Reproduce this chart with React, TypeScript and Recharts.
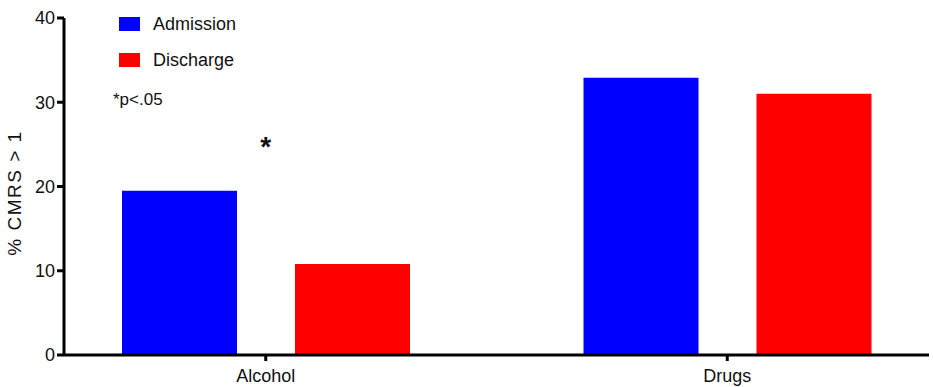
import { BarChart, Bar, XAxis, YAxis, ReferenceDot } from "recharts";

const categories = ["Alcohol", "Drugs"];
const admission = [19.5, 32.9];
const discharge = [10.8, 31.0];
const yTicks = [0, 10, 20, 30, 40];
const seriesNames = ["Admission", "Discharge"];
const seriesColors = ["#0000ff", "#ff0000"];

const data = categories.map((name, i) => ({
  name,
  Admission: admission[i],
  Discharge: discharge[i],
}));

const FONT = "'Liberation Sans', Arial, sans-serif";

export default function App() {
  return (
    <div style={{ position: "absolute", left: 0, top: 0, width: 933, height: 387, background: "#fff" }}>
      <BarChart
        width={933}
        height={387}
        data={data}
        margin={{ top: 18, right: 4, bottom: 0, left: 0 }}
        barGap={58}
        barSize={115}
      >
        <XAxis
          dataKey="name"
          padding={{ left: -29, right: -29 }}
          height={32}
          axisLine={{ stroke: "#000", strokeWidth: 3 }}
          tickLine={{ stroke: "#000", strokeWidth: 3 }}
          tickSize={6}
          tickMargin={8}
          tick={{ fill: "#111", fontSize: 18, fontFamily: FONT }}
        />
        <YAxis
          width={64}
          domain={[0, 40]}
          ticks={yTicks}
          axisLine={{ stroke: "#000", strokeWidth: 3 }}
          tickLine={{ stroke: "#000", strokeWidth: 3 }}
          tickSize={7}
          tickMargin={2}
          tick={{ fill: "#111", fontSize: 18, fontFamily: FONT }}
        />
        {seriesNames.map((key, i) => (
          <Bar key={key} dataKey={key} fill={seriesColors[i]} isAnimationActive={false} />
        ))}
        <ReferenceDot
          x="Alcohol"
          y={25}
          r={0}
          fill="none"
          stroke="none"
          label={{ value: "*", position: "center", fill: "#111", fontSize: 28, fontWeight: "bold", fontFamily: FONT, dy: 2 }}
        />
      </BarChart>

      {/* y axis title */}
      <div
        style={{
          position: "absolute",
          left: 15,
          top: 193,
          transform: "translate(-50%, -50%) rotate(-90deg)",
          whiteSpace: "nowrap",
          fontFamily: FONT,
          fontSize: 19,
          letterSpacing: 1.5,
          color: "#111",
        }}
      >
        % CMRS &gt; 1
      </div>

      {/* legend */}
      <div style={{ position: "absolute", left: 119, top: 6, fontFamily: FONT, fontSize: 18, color: "#111" }}>
        {seriesNames.map((label, i) => (
          <div key={label} style={{ display: "flex", alignItems: "center", height: 36 }}>
            <span style={{ width: 21, height: 14, background: seriesColors[i], marginRight: 13 }} />
            <span>{label}</span>
          </div>
        ))}
      </div>

      <div style={{ position: "absolute", left: 113, top: 90, fontFamily: FONT, fontSize: 17, color: "#111" }}>
        *p&lt;.05
      </div>
    </div>
  );
}
